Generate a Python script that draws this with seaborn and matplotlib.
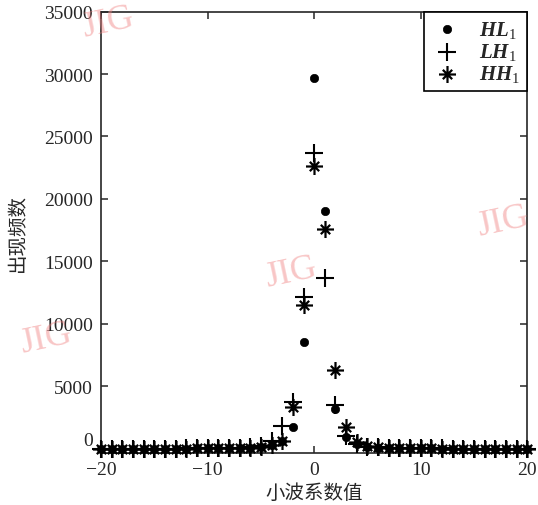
import numpy as np
import matplotlib
matplotlib.use("Agg")
import matplotlib.pyplot as plt
from matplotlib.path import Path
from matplotlib.transforms import ScaledTranslation
import seaborn as sns
import pandas as pd

# 小波系数值 (整数) 与三个子带的出现频数
coef = list(range(-20, 21))
hl1 = [0, 0, 0, 0, 0, 0, 0, 0, 0, 10, 10, 20, 30, 40, 60,
       100, 250, 600, 1700, 8500, 29700, 19000, 3200, 950, 350, 150,
       80, 50, 30, 20, 10, 10, 0, 0, 0, 0, 0, 0, 0, 0, 0]
lh1 = [0, 0, 0, 0, 0, 0, 0, 0, 10, 10, 20, 30, 40, 60, 100,
       200, 600, 1800, 3700, 12100, 23700, 13700, 3500, 1000, 400, 150,
       100, 60, 40, 30, 20, 10, 10, 0, 0, 0, 0, 0, 0, 0, 0]
hh1 = [0, 0, 0, 0, 0, 0, 0, 0, 0, 10, 10, 20, 30, 50, 80,
       150, 300, 600, 3300, 11500, 22600, 17600, 6300, 1700, 500, 200,
       100, 60, 40, 20, 10, 10, 0, 0, 0, 0, 0, 0, 0, 0, 0]
series_labels = [r"$HL_1$", r"$LH_1$", r"$HH_1$"]
y_ticks = [0, 5000, 10000, 15000, 20000, 25000, 30000, 35000]
x_ticks = [-20, -10, 0, 10, 20]

df = pd.DataFrame({"coef": coef, "HL1": hl1, "LH1": lh1, "HH1": hh1})

sns.set_style("ticks")
plt.rcParams["font.family"] = ["Liberation Serif", "Noto Sans CJK SC", "DejaVu Sans"]
plt.rcParams["mathtext.fontset"] = "custom"
plt.rcParams["mathtext.it"] = "Liberation Serif:italic:bold"
plt.rcParams["mathtext.rm"] = "Liberation Serif"
plt.rcParams["mathtext.bf"] = "Liberation Serif:bold"

# 星号标记: 十字 + 短斜线
r = 0.55
asterisk = Path(
    [(-1, 0), (1, 0), (0, -1), (0, 1), (-r, -r), (r, r), (-r, r), (r, -r)],
    [Path.MOVETO, Path.LINETO] * 4,
)

fig = plt.figure(figsize=(5.38, 5.06), dpi=100)
ax = fig.add_axes([0.188, 0.103, 0.792, 0.872])

sns.scatterplot(data=df, x="coef", y="HL1", marker="o", s=36, color="black",
                edgecolor="black", linewidth=0.5, label=series_labels[0],
                clip_on=False, zorder=3, ax=ax)
sns.scatterplot(data=df, x="coef", y="LH1", marker="+", s=160, color="black",
                linewidth=1.5, label=series_labels[1], clip_on=False,
                zorder=3, ax=ax)
sns.scatterplot(data=df, x="coef", y="HH1", marker=asterisk, s=150,
                color="black", edgecolor="black", linewidth=1.6,
                label=series_labels[2], clip_on=False, zorder=3, ax=ax)

ax.set_xlim(-20, 20)
ax.set_ylim(-350, 35000)
ax.set_xticks(x_ticks)
ax.set_yticks(y_ticks)
ax.tick_params(direction="in", length=5, width=1.1, top=True, right=True,
               labelsize=14, pad=6)
for sp in ax.spines.values():
    sp.set_linewidth(1.2)
    sp.set_visible(True)

# 原图中 "0" 标签略微上移
lab0 = ax.get_yticklabels()[0]
lab0.set_transform(lab0.get_transform() + ScaledTranslation(0, 0.10, fig.dpi_scale_trans))

ax.set_xlabel("小波系数值", fontsize=14, family=["Noto Sans CJK SC"])
ax.set_ylabel("出现频数", fontsize=14, family=["Noto Sans CJK SC"])
ax.xaxis.set_label_coords(0.5, -0.065)
ax.yaxis.set_label_coords(-0.172, 0.5)

leg = ax.legend(loc="upper right", borderaxespad=0, fancybox=False,
                edgecolor="black", fontsize=15, handletextpad=0.8,
                labelspacing=0.05, borderpad=0.35, handlelength=1.5,
                scatterpoints=1, framealpha=1)
leg.get_frame().set_linewidth(1.2)

# 水印
for (wx, wy, rot) in [(0.20, 0.955, 12), (0.54, 0.46, 12), (0.085, 0.33, 12), (0.935, 0.56, 12)]:
    fig.text(wx, wy, "JIG", fontsize=26, color="#f08080", alpha=0.45,
             rotation=rot, ha="center", va="center", family="Liberation Serif")

fig.savefig("out.png", dpi=100)
